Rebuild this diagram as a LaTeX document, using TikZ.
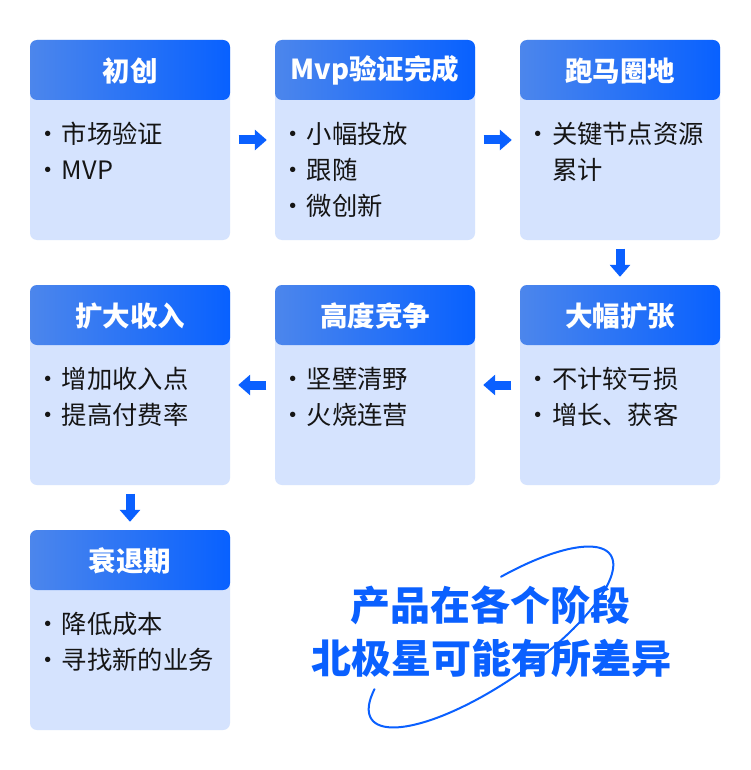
\documentclass[tikz,border=0pt]{standalone}
\usepackage{fontspec}
\setmainfont{Noto Sans CJK SC}
\usepackage{xcolor}
\usepackage{tikz}
\usetikzlibrary{arrows.meta,positioning}
\definecolor{cardbg}{HTML}{D5E3FE}
\definecolor{hdrL}{HTML}{4C86EC}
\definecolor{hdrR}{HTML}{0861FF}
\definecolor{flowblue}{HTML}{0A60FF}
\definecolor{bodytxt}{HTML}{151515}
\newcommand\bul{\makebox[0pt]{·}\hspace{14pt}}
\tikzset{
  card/.style={rectangle, rounded corners=7pt, inner sep=0pt,
               minimum width=200pt, minimum height=200pt, fill=cardbg,
               path picture={\shade[left color=hdrL, right color=hdrR]
                 (path picture bounding box.north west) rectangle
                 ([yshift=-60pt]path picture bounding box.north east);}},
  cardtitle/.style={text=white, inner sep=0pt,
               font=\fontsize{27.5pt}{30pt}\selectfont\bfseries},
  % base is the last line, so shift by the line count
  cardbody/.style={anchor=base west, align=left, inner sep=0pt, text=bodytxt,
               font=\fontsize{25.3pt}{36pt}\selectfont},
  flow/.style={-{Triangle[width=20pt, length=12pt]}, line width=9pt, draw=flowblue,
               shorten <=8.5pt, shorten >=8pt},
  slogan/.style={text=flowblue, inner sep=0pt,
               font=\fontsize{40pt}{48pt}\selectfont\bfseries},
}

\begin{document}
\begin{tikzpicture}[x=1pt, y=-1pt]
  \useasboundingbox[fill=white] (0,0) rectangle (750,770);
  % stage cards
  \node[card] (chu)       at (130,140) {};
  \node[card] (yanzheng)  at (375,140) {};
  \node[card] (paoma)     at (620,140) {};
  \node[card] (dafu)      at (620,385) {};
  \node[card] (jingzheng) at (375,385) {};
  \node[card] (kuoda)     at (130,385) {};
  \node[card] (shuaitui)  at (130,630) {};
  % card titles
  \node[cardtitle] (chuT)       at ([yshift=-31pt]chu.north)       {初创};
  \node[cardtitle] (yanzhengT)  at ([yshift=-31pt]yanzheng.north)  {Mvp验证完成};
  \node[cardtitle] (paomaT)     at ([yshift=-31pt]paoma.north)     {跑马圈地};
  \node[cardtitle] (dafuT)      at ([yshift=-31pt]dafu.north)      {大幅扩张};
  \node[cardtitle] (jingzhengT) at ([yshift=-31pt]jingzheng.north) {高度竞争};
  \node[cardtitle] (kuodaT)     at ([yshift=-31pt]kuoda.north)     {扩大收入};
  \node[cardtitle] (shuaituiT)  at ([yshift=-31pt]shuaitui.north)  {衰退期};
  % card contents
  \node[cardbody] (chuB)       at ([xshift=18pt,yshift=-140pt]chu.north west)       {\bul 市场验证\\\bul MVP};
  \node[cardbody] (yanzhengB)  at ([xshift=18pt,yshift=-176pt]yanzheng.north west)  {\bul 小幅投放\\\bul 跟随\\\bul 微创新};
  \node[cardbody] (paomaB)     at ([xshift=18pt,yshift=-140pt]paoma.north west)     {\bul 关键节点资源\\\hspace*{14pt}累计};
  \node[cardbody] (dafuB)      at ([xshift=18pt,yshift=-140pt]dafu.north west)      {\bul 不计较亏损\\\bul 增长、获客};
  \node[cardbody] (jingzhengB) at ([xshift=18pt,yshift=-140pt]jingzheng.north west) {\bul 坚壁清野\\\bul 火烧连营};
  \node[cardbody] (kuodaB)     at ([xshift=18pt,yshift=-140pt]kuoda.north west)     {\bul 增加收入点\\\bul 提高付费率};
  \node[cardbody] (shuaituiB)  at ([xshift=18pt,yshift=-140pt]shuaitui.north west)  {\bul 降低成本\\\bul 寻找新的业务};
  % stage flow
  \draw[flow] (chu) -- (yanzheng);
  \draw[flow] (yanzheng) -- (paoma);
  \draw[flow] (paoma) -- (dafu);
  \draw[flow] (dafu) -- (jingzheng);
  \draw[flow] (jingzheng) -- (kuoda);
  \draw[flow] (kuoda) -- (shuaitui);
  % open ring behind the slogan
  \draw[flowblue, line width=2pt, line cap=round]
    plot[domain=-210:73, samples=150, smooth]
    ({491 + 145*cos(\x)*cos(34.5) - 46*sin(\x)*sin(34.5)},
     {637 - (145*cos(\x)*sin(34.5) + 46*sin(\x)*cos(34.5))});
  % slogan
  \node[slogan] (slogan1) at (490,605) {产品在各个阶段};
  \node[slogan] (slogan2) at (491,658) {北极星可能有所差异};
\end{tikzpicture}
\end{document}
